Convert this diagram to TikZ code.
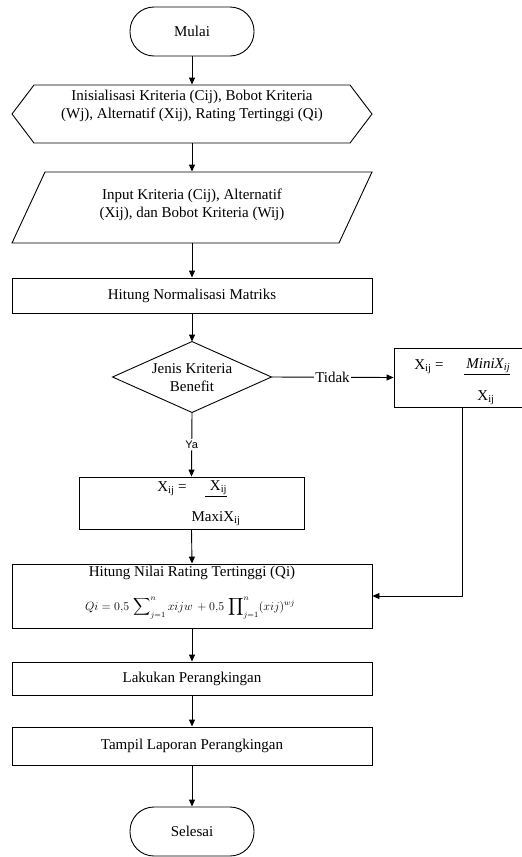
\documentclass[tikz,border=0pt]{standalone}
\usepackage{exscale}
\usepackage{fontspec}
\setmainfont{Liberation Serif}
\newfontfamily\labelsans{Liberation Sans}
\usetikzlibrary{arrows.meta}
\begin{document}
\begin{tikzpicture}[x=1pt,y=-1pt,line width=0.9pt,
  txt/.style={font=\fontsize{15}{18}\selectfont,align=center,inner sep=0pt},
  frame/.style={rectangle,inner sep=0pt},
  boxed/.style={draw,rectangle,inner sep=0pt},
  term/.style={draw,rectangle,rounded corners=24pt,minimum width=124pt,minimum height=49pt,inner sep=0pt,font=\fontsize{15}{18}\selectfont},
  arr/.style={-{Triangle[length=7pt,width=6pt]}}]
\clip (0,0) rectangle (522,857);
\fill[white] (0,0) rectangle (522,857);

% start
\node[term] (start) at (192,31.5) {Mulai};

% initialisation (hexagon)
\node[frame,minimum width=360pt,minimum height=58pt] (init) at (192,114) {};
\draw (12,114) -- (34,85) -- (350,85) -- (372,114) -- (350,143) -- (34,143) -- cycle;
\node[txt] at (192,106) {Inisialisasi Kriteria (Cij), Bobot Kriteria\\(Wj), Alternatif (Xij), Rating Tertinggi (Qi)};

% input (parallelogram)
\node[frame,minimum width=360pt,minimum height=71pt] (inp) at (192,207.5) {};
\draw (45,172) -- (372,172) -- (339,243) -- (12,243) -- cycle;
\node[txt] at (192,205) {Input Kriteria (Cij), Alternatif\\(Xij), dan Bobot Kriteria (Wij)};

% normalisation
\node[boxed,txt,minimum width=360pt,minimum height=35pt] (norm) at (192,295.5) {Hitung Normalisasi Matriks};

% decision
\node[frame,minimum width=158pt,minimum height=70pt] (dec) at (192,377) {};
\draw (dec.north) -- (dec.east) -- (dec.south) -- (dec.west) -- cycle;
\node[txt] at (192,378) {Jenis Kriteria\\Benefit};

% cost box (right)
\node[boxed,minimum width=136pt,minimum height=59pt] (mini) at (462,377.5) {};
\node[txt] at (429,367) {X\textsubscript{ij} =};
\node[txt] at (487,367) {\underline{\textit{\,MiniX\textsubscript{ij}}}};
\node[txt] at (486,398) {X\textsubscript{ij}};

% benefit box
\node[boxed,minimum width=225pt,minimum height=52pt] (maxi) at (191.5,503) {};
\node[txt] at (172,489) {X\textsubscript{ij} =};
\node[txt] at (216,489) {\underline{\,\,X\textsubscript{ij}}};
\node[txt] at (216,519) {MaxiX\textsubscript{ij}};

% Qi box
\node[boxed,minimum width=360pt,minimum height=64pt] (qi) at (192,596) {};
\node[txt] at (192,573) {Hitung Nilai Rating Tertinggi (Qi)};
\node[inner sep=0pt,font=\fontsize{12}{14}\selectfont] at (190,608)
  {$\displaystyle Qi = 0{,}5\,\sum\nolimits_{j=1}^{n} xijw \,+ 0{,}5\,\prod\nolimits_{j=1}^{n} (xij)^{wj}$};

% ranking
\node[boxed,txt,minimum width=360pt,minimum height=33pt] (rank) at (192,678.5) {Lakukan Perangkingan};
\node[boxed,txt,minimum width=360pt,minimum height=38pt] (show) at (192,746) {Tampil Laporan Perangkingan};

% end
\node[term] (stop) at (192,831.5) {Selesai};

% connectors
\draw[arr] (start.south) -- (init.north);
\draw[arr] (init.south) -- (inp.north);
\draw[arr] (inp.south) -- (norm.north);
\draw[arr] (norm.south) -- (dec.north);
\draw[arr] (dec.east) -- node[fill=white,inner sep=1pt,font=\fontsize{15}{18}\selectfont] {Tidak} (mini.west);
\draw[arr] (dec.south) -- node[pos=0.5,fill=white,inner sep=1.5pt,font=\labelsans\fontsize{11}{13}\selectfont] {Ya} (maxi.north);
\draw[arr] (maxi.south) -- (qi.north);
\draw[arr] (mini.south) |- (qi.east);
\draw[arr] (qi.south) -- (rank.north);
\draw[arr] (rank.south) -- (show.north);
\draw[arr] (show.south) -- (stop.north);
\end{tikzpicture}
\end{document}
